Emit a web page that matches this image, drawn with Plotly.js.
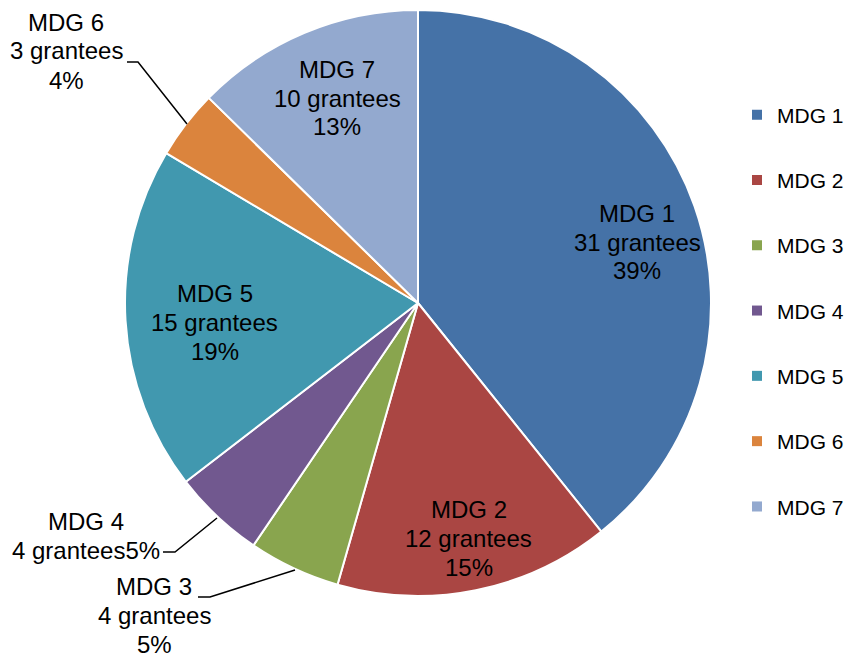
<!DOCTYPE html>
<html><head><meta charset="utf-8">
<script src="https://cdn.plot.ly/plotly-3.0.1.min.js"></script>
<style>html,body{margin:0;padding:0;background:#fff}#chart{width:851px;height:657px}</style>
</head><body><div id="chart"></div>
<script>
const labels = ['MDG 1','MDG 2','MDG 3','MDG 4','MDG 5','MDG 6','MDG 7'];
const grantees = [31, 12, 4, 4, 15, 3, 10];
const colors = ['#4572A7','#AA4643','#89A54E','#71588F','#4198AF','#DB843D','#93A9CF'];

const W = 851, H = 657;
const px = (x) => x / W;
const py = (y) => 1 - y / H;
const total = grantees.reduce((a,b)=>a+b,0);
const pct = grantees.map(v => Math.round(v / total * 100) + '%');

// label placement (pixel centre of the label block) and whether the % joins line 2
const labelPos = [
  {x:637, y:242, join:false},
  {x:469, y:538, join:false},
  {x:154, y:615, join:false},
  {x:86,  y:536, join:true},
  {x:215, y:322, join:false},
  {x:66,  y:51,  join:false},
  {x:337, y:98,  join:false}
];
const LS = 29;
const annotations = [];
labels.forEach((l,i) => {
  const p = labelPos[i];
  const lines = p.join
    ? [l, grantees[i] + ' grantees' + pct[i]]
    : [l, grantees[i] + ' grantees', pct[i]];
  const n = lines.length;
  lines.forEach((t,k) => {
    annotations.push({
      xref:'paper', yref:'paper', x:px(p.x), y:py(p.y + (k - (n-1)/2) * LS),
      xanchor:'center', yanchor:'middle', showarrow:false, text:t,
      font:{family:'Liberation Sans, Arial, sans-serif', size:24, color:'#000'}
    });
  });
});

const leaders = [
  [[187,124],[138,62],[127,62]],
  [[217,518],[175,552],[163,552]],
  [[295,570],[210,597],[198,597]]
];
const shapes = leaders.map(pts => ({
  type:'path', xref:'paper', yref:'paper',
  path: pts.map((p,j) => (j?'L':'M') + px(p[0]) + ',' + py(p[1])).join(' '),
  line:{color:'#000', width:1.5}
}));

const CX = 418, CY = 303, R = 293;
const pie = {
  type:'pie', labels:labels, values:grantees, sort:false, direction:'clockwise', rotation:0,
  marker:{colors:colors, line:{color:'#fff', width:2}},
  textinfo:'none', showlegend:false, hoverinfo:'label+value+percent',
  domain:{x:[px(CX-R), px(CX+R)], y:[py(CY+R), py(CY-R)]}
};

const legendTraces = labels.map((l,i) => ({
  type:'scatter', mode:'markers', x:[null], y:[null], name:l, legendgroup:'g'+i,
  marker:{symbol:'square', size:10, color:colors[i]}, showlegend:true, hoverinfo:'skip'
}));

const layout = {
  width:W, height:H, margin:{l:0,r:0,t:0,b:0,autoexpand:false},
  paper_bgcolor:'#fff', plot_bgcolor:'rgba(0,0,0,0)',
  xaxis:{visible:false}, yaxis:{visible:false},
  showlegend:true,
  legend:{x:px(737), xanchor:'left', y:py(311), yanchor:'middle', tracegroupgap:35,
    font:{family:'Liberation Sans, Arial, sans-serif', size:21, color:'#000'},
    itemwidth:30, bgcolor:'rgba(0,0,0,0)'},
  annotations:annotations, shapes:shapes
};

Plotly.newPlot('chart', [pie].concat(legendTraces), layout, {staticPlot:true});
</script></body></html>
